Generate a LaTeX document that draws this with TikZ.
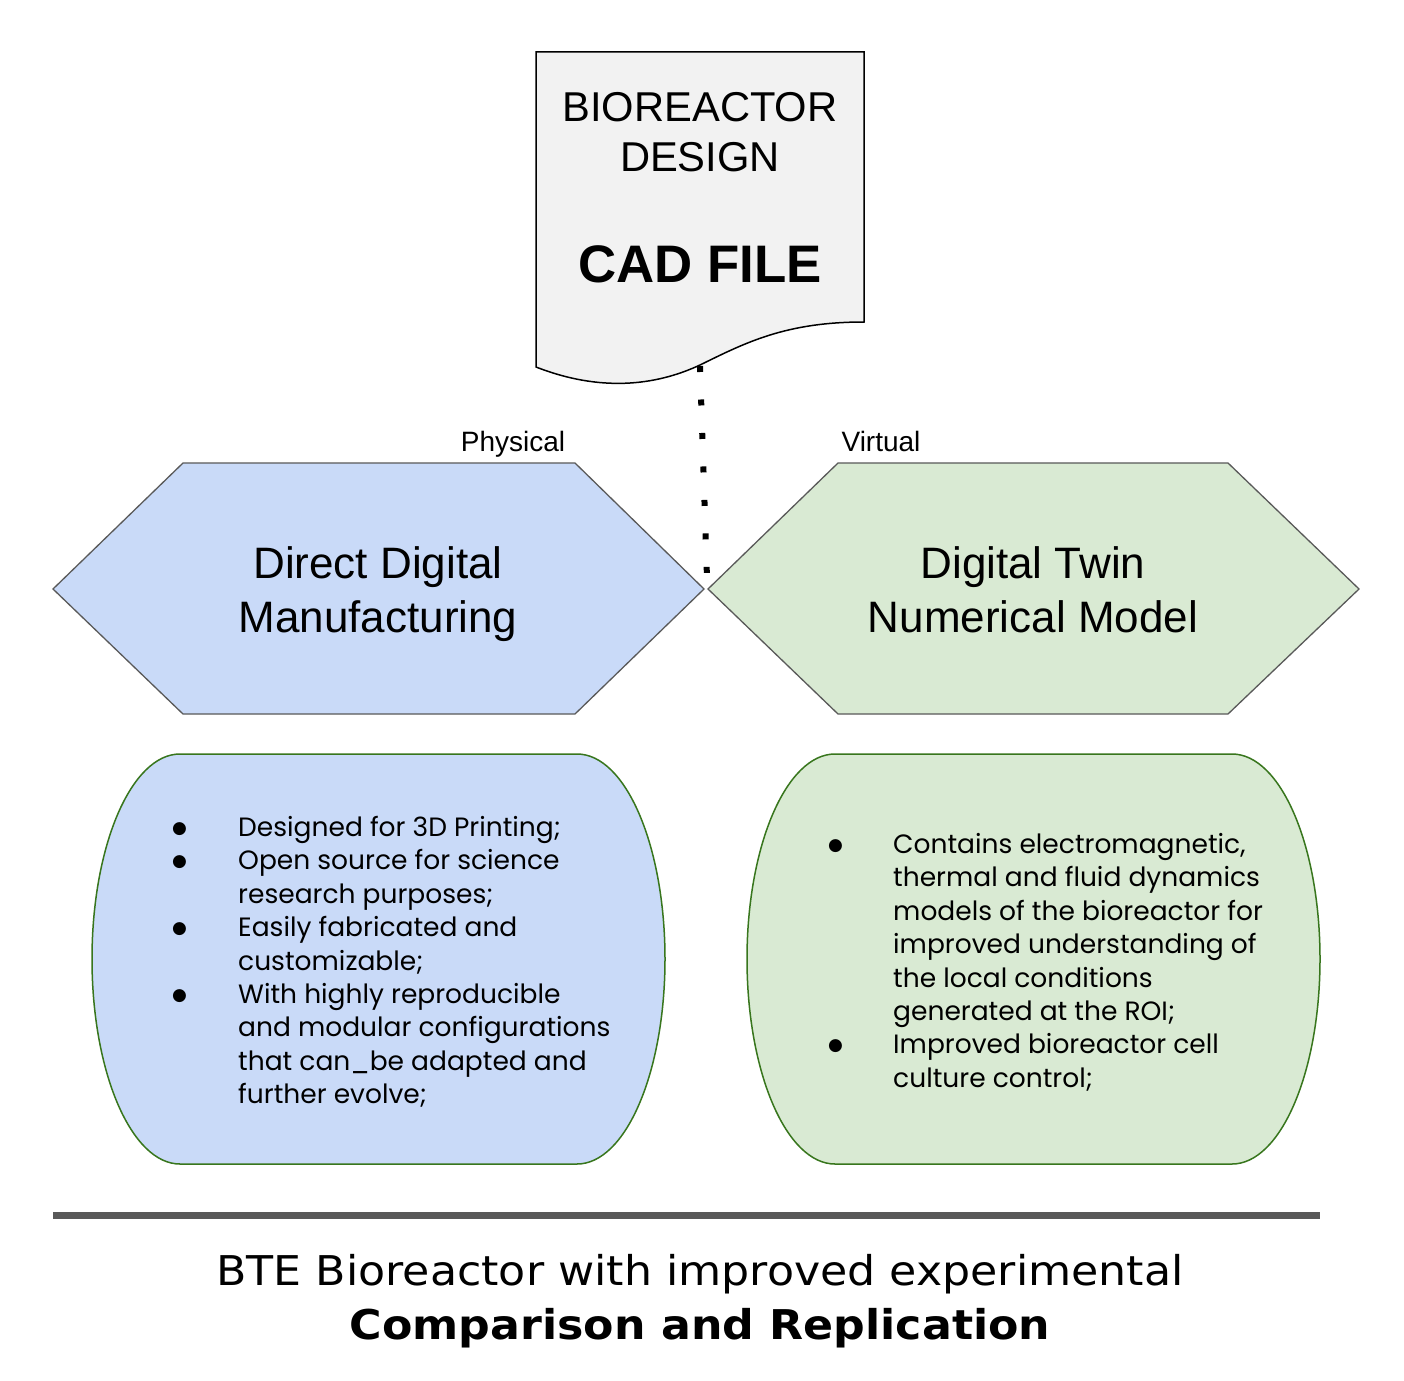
\documentclass[tikz,border=0pt]{standalone}
\usepackage{fontspec}
\setmainfont{Liberation Sans}
\newfontfamily\bulletfont{Poppins}
\newfontfamily\captionfont[FakeStretch=1.08]{DejaVu Sans}
\newfontfamily\dotfont{DejaVu Sans}
\usepackage{array}
\definecolor{docfill}{HTML}{F2F2F2}
\definecolor{bluefill}{HTML}{C9DAF8}
\definecolor{greenfill}{HTML}{D9EAD3}
\definecolor{greenline}{HTML}{38761D}
\definecolor{grayline}{HTML}{595959}
\newcommand{\bul}{\raisebox{3pt}{\dotfont\fontsize{17}{17}\selectfont ●}}
\begin{document}
\begin{tikzpicture}[x=1pt,y=-1pt,
  docshape/.style={draw=black,line width=1.5pt,fill=docfill},
  hexshape/.style={draw=grayline,line width=1.3pt},
  blobshape/.style={draw=greenline,line width=1.5pt},
  bigtext/.style={inner sep=0pt,align=center,font=\fontsize{44}{54}\selectfont},
  smalllabel/.style={inner sep=0pt,anchor=base,font=\fontsize{28}{32}\selectfont},
  listtext/.style={inner sep=0pt,anchor=north west,font=\bulletfont\fontsize{26.5}{33.4}\selectfont},
  dotline/.style={line width=6pt,dash pattern=on 6pt off 27.5pt},
  sepline/.style={line width=7pt,draw=grayline},
  captext/.style={inner sep=0pt,font=\captionfont\fontsize{41}{47}\selectfont}
]
\useasboundingbox (0,0) rectangle (1404,1380);
\fill[white] (0,0) rectangle (1404,1380);

% document shape
\draw[docshape] (536,52) -- (864,52) -- (864,322)
  .. controls (785,322) and (745,343) .. (700,365)
  .. controls (655,386) and (600,392) .. (536,367) -- cycle;
\node[inner sep=0pt,align=center,font=\fontsize{41.7}{50}\selectfont] (design) at (700,132) {BIOREACTOR\\DESIGN};
\node[inner sep=0pt,font=\fontsize{52.8}{60}\selectfont\bfseries] (cad) at (700,264) {CAD FILE};

% hexagons
\fill[bluefill] (53,589) -- (183,463) -- (575,463) -- (704,589) -- (575,714) -- (183,714) -- cycle;
\draw[hexshape] (53,589) -- (183,463) -- (575,463) -- (704,589) -- (575,714) -- (183,714) -- cycle;
\fill[greenfill] (708,589) -- (838,463) -- (1228,463) -- (1359,589) -- (1228,714) -- (838,714) -- cycle;
\draw[hexshape] (708,589) -- (838,463) -- (1228,463) -- (1359,589) -- (1228,714) -- (838,714) -- cycle;
\node[bigtext] (ddm) at (378,594) {Direct Digital\\Manufacturing};
\node[bigtext] (dtw) at (1033,590) {Digital Twin\\Numerical Model};
\node[smalllabel] (phys) at (513,451) {Physical};
\node[smalllabel] (virt) at (881,451) {Virtual};

% dotted connector
\coordinate (dotA) at (700,366);
\coordinate (dotB) at (707,578);
\draw[dotline] (dotA) -- (dotB);

% rounded boxes
\draw[blobshape,fill=bluefill] (180,754) -- (577,754)
  arc[start angle=90,end angle=-90,x radius=88pt,y radius=205pt]
  -- (180,1164)
  arc[start angle=270,end angle=90,x radius=88pt,y radius=205pt] -- cycle;
\draw[blobshape,fill=greenfill] (835,754) -- (1232,754)
  arc[start angle=90,end angle=-90,x radius=88pt,y radius=205pt]
  -- (835,1164)
  arc[start angle=270,end angle=90,x radius=88pt,y radius=205pt] -- cycle;

\node[listtext] (leftlist) at (172,813) {%
\begin{tabular}{@{}p{54pt}l@{}}
\bul & Designed for 3D Printing;\\
\bul & Open source for science\\
 & research purposes;\\
\bul & Easily fabricated and\\
 & customizable;\\
\bul & With highly reproducible\\
 & and modular configurations\\
 & that can\_be adapted and\\
 & further evolve;
\end{tabular}};

\node[listtext] (rightlist) at (828,830) {%
\begin{tabular}{@{}p{53pt}l@{}}
\bul & Contains electromagnetic,\\
 & thermal and fluid dynamics\\
 & models of the bioreactor for\\
 & improved understanding of\\
 & the local conditions\\
 & generated at the ROI;\\
\bul & Improved bioreactor cell\\
 & culture control;
\end{tabular}};

% separator and caption
\coordinate (sepA) at (53,1215);
\coordinate (sepB) at (1320,1215);
\draw[sepline] (sepA) -- (sepB);
\node[captext] (cap1) at (700,1274) {BTE Bioreactor with improved experimental};
\node[captext,font=\captionfont\bfseries\fontsize{41}{47}\selectfont] (cap2) at (700,1328) {Comparison and Replication};
\end{tikzpicture}
\end{document}
